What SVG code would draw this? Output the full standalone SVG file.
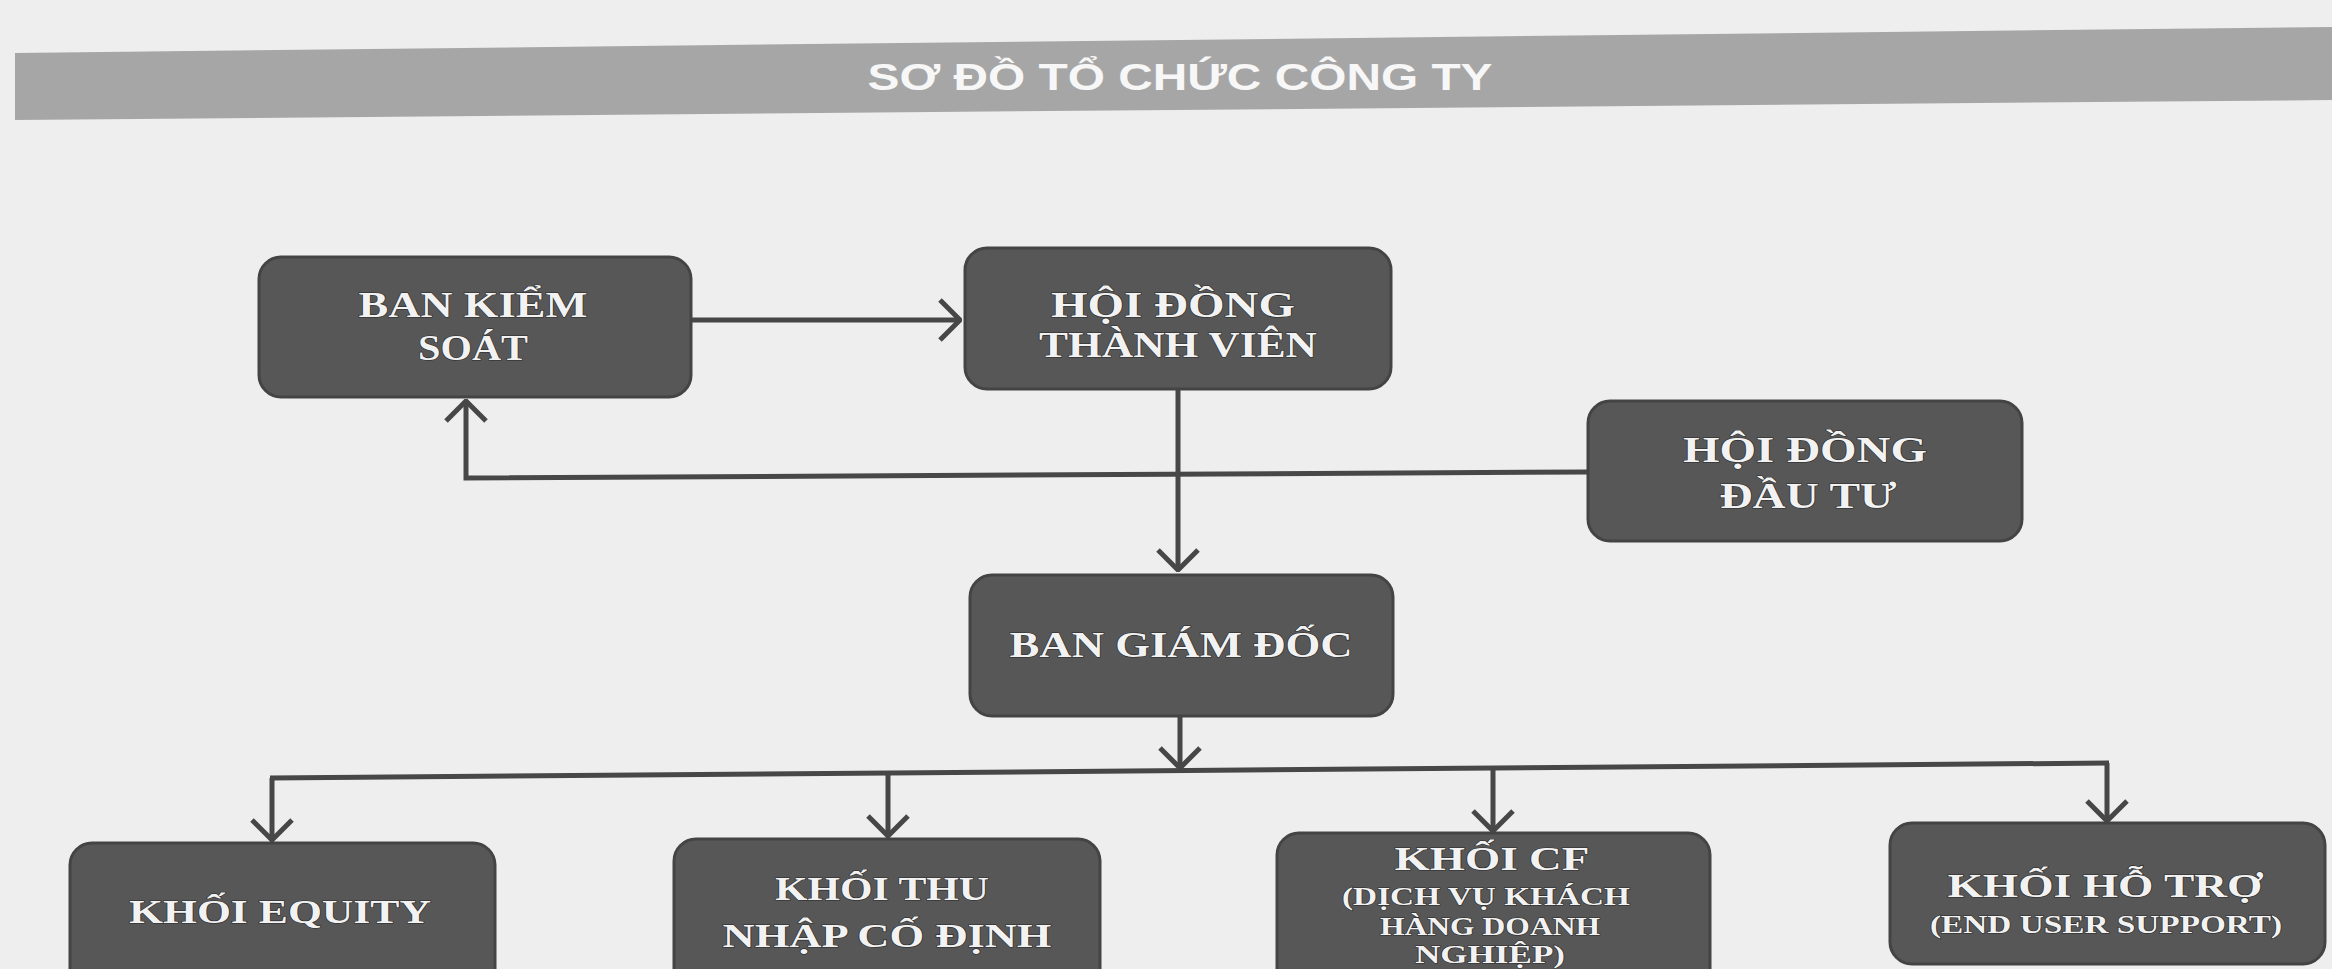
<svg xmlns="http://www.w3.org/2000/svg" width="2332" height="969" viewBox="0 0 2332 969">
<style>
.bg{fill:#eeeeee}
.box{fill:#575757;stroke:#444444;stroke-width:3}
.t{font-family:"Liberation Serif","Times New Roman",serif;font-weight:bold;fill:#f2f2f2;stroke:#2a2a2a;stroke-width:1.2;paint-order:stroke;text-anchor:middle}
.big{font-size:36px}
.mid{font-size:33px}
.sm{font-size:26px}
.title{font-family:"Liberation Sans",Arial,sans-serif;font-size:36px;font-weight:bold;fill:#f7f7f7;text-anchor:middle}
.ln{fill:none;stroke:#474747;stroke-width:5}
</style>
<defs>
<marker id="ah" viewBox="0 0 24 44" refX="22" refY="22" markerWidth="24" markerHeight="44" markerUnits="userSpaceOnUse" orient="auto">
<path d="M2,2 L22,22 L2,42" fill="none" stroke="#474747" stroke-width="5"/>
</marker>
</defs>
<rect class="bg" x="0" y="0" width="2332" height="969"/>
<g id="title-bar">
<polygon points="15,53 2332,27 2332,100 15,120" fill="#a6a6a6"/>
<text class="title" x="1180" y="90" textLength="625" lengthAdjust="spacingAndGlyphs">SƠ ĐỒ TỔ CHỨC CÔNG TY</text>
</g>
<g id="connectors">
<line class="ln" x1="691" y1="320" x2="960" y2="320" marker-end="url(#ah)"/>
<polyline class="ln" points="1588,472 466,478 466,401" marker-end="url(#ah)"/>
<line class="ln" x1="1178" y1="390" x2="1178" y2="570" marker-end="url(#ah)"/>
<line class="ln" x1="1180" y1="715" x2="1180" y2="768" marker-end="url(#ah)"/>
<line class="ln" x1="270" y1="778" x2="2109" y2="763"/>
<line class="ln" x1="272" y1="778" x2="272" y2="840" marker-end="url(#ah)"/>
<line class="ln" x1="888" y1="773" x2="888" y2="836" marker-end="url(#ah)"/>
<line class="ln" x1="1493" y1="768" x2="1493" y2="831" marker-end="url(#ah)"/>
<line class="ln" x1="2107" y1="763" x2="2107" y2="821" marker-end="url(#ah)"/>
</g>
<g id="ban-kiem-soat">
<rect class="box" x="259" y="257" width="432" height="140" rx="22"/>
<text class="t big" x="473" y="317" textLength="229" lengthAdjust="spacingAndGlyphs">BAN KIỂM</text>
<text class="t big" x="473" y="360" textLength="110" lengthAdjust="spacingAndGlyphs">SOÁT</text>
</g>
<g id="hoi-dong-thanh-vien">
<rect class="box" x="965" y="248" width="426" height="141" rx="22"/>
<text class="t big" x="1173" y="317" textLength="244" lengthAdjust="spacingAndGlyphs">HỘI ĐỒNG</text>
<text class="t big" x="1178" y="357" textLength="278" lengthAdjust="spacingAndGlyphs">THÀNH VIÊN</text>
</g>
<g id="hoi-dong-dau-tu">
<rect class="box" x="1588" y="401" width="434" height="140" rx="22"/>
<text class="t big" x="1805" y="462" textLength="244" lengthAdjust="spacingAndGlyphs">HỘI ĐỒNG</text>
<text class="t big" x="1808" y="508" textLength="177" lengthAdjust="spacingAndGlyphs">ĐẦU TƯ</text>
</g>
<g id="ban-giam-doc">
<rect class="box" x="970" y="575" width="423" height="141" rx="22"/>
<text class="t big" x="1181" y="657" textLength="343" lengthAdjust="spacingAndGlyphs">BAN GIÁM ĐỐC</text>
</g>
<g id="khoi-equity">
<rect class="box" x="70" y="843" width="425" height="160" rx="22"/>
<text class="t mid" x="280" y="923" textLength="302" lengthAdjust="spacingAndGlyphs">KHỐI EQUITY</text>
</g>
<g id="khoi-thu-nhap-co-dinh">
<rect class="box" x="674" y="839" width="426" height="160" rx="22"/>
<text class="t mid" x="882" y="900" textLength="214" lengthAdjust="spacingAndGlyphs">KHỐI THU</text>
<text class="t mid" x="887" y="947" textLength="329" lengthAdjust="spacingAndGlyphs">NHẬP CỐ ĐỊNH</text>
</g>
<g id="khoi-cf">
<rect class="box" x="1277" y="833" width="433" height="160" rx="22"/>
<text class="t mid" x="1492" y="870" textLength="195" lengthAdjust="spacingAndGlyphs">KHỐI CF</text>
<text class="t sm" x="1486" y="905" textLength="288" lengthAdjust="spacingAndGlyphs">(DỊCH VỤ KHÁCH</text>
<text class="t sm" x="1490" y="935" textLength="220" lengthAdjust="spacingAndGlyphs">HÀNG DOANH</text>
<text class="t sm" x="1490" y="963" textLength="150" lengthAdjust="spacingAndGlyphs">NGHIỆP)</text>
</g>
<g id="khoi-ho-tro">
<rect class="box" x="1890" y="823" width="435" height="141" rx="22"/>
<text class="t mid" x="2105" y="897" textLength="315" lengthAdjust="spacingAndGlyphs">KHỐI HỖ TRỢ</text>
<text class="t sm" x="2106" y="933" textLength="352" lengthAdjust="spacingAndGlyphs">(END USER SUPPORT)</text>
</g>
</svg>
